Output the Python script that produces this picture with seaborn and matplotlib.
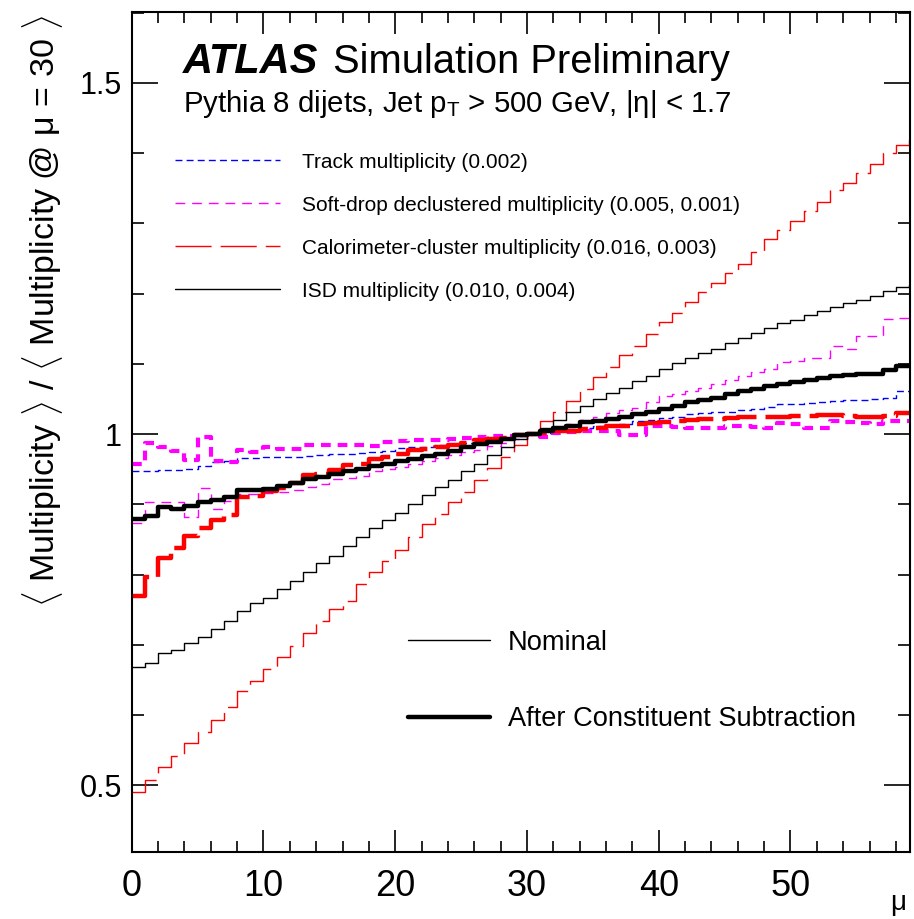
import numpy as np
import pandas as pd
import matplotlib
matplotlib.use("Agg")
import matplotlib.pyplot as plt
from matplotlib import font_manager
from matplotlib.ticker import MultipleLocator, FuncFormatter
import seaborn as sns

# ---------------- data (bin lower edges in mu, bin width 1) ----------------
mu = list(range(60))

track = [0.947, 0.948, 0.949, 0.949, 0.950, 0.955, 0.960, 0.962, 0.966, 0.966,
         0.967, 0.967, 0.968, 0.969, 0.970, 0.971, 0.972, 0.973, 0.974, 0.976,
         0.980, 0.981, 0.982, 0.984, 0.986, 0.987, 0.989, 0.992, 0.994, 0.997,
         1.000, 1.002, 1.005, 1.007, 1.009, 1.012, 1.013, 1.015, 1.018, 1.020,
         1.023, 1.025, 1.028, 1.030, 1.031, 1.032, 1.034, 1.036, 1.038, 1.043,
         1.043, 1.044, 1.046, 1.047, 1.048, 1.049, 1.050, 1.052, 1.062, 1.062]

sd_nom = [0.874, 0.903, 0.903, 0.903, 0.882, 0.923, 0.893, 0.905, 0.914, 0.914,
          0.916, 0.918, 0.920, 0.925, 0.929, 0.936, 0.938, 0.941, 0.947, 0.950,
          0.953, 0.958, 0.962, 0.966, 0.970, 0.974, 0.978, 0.983, 0.987, 0.993,
          1.000, 1.004, 1.009, 1.015, 1.020, 1.025, 1.030, 1.034, 1.037, 1.045,
          1.054, 1.057, 1.062, 1.065, 1.071, 1.077, 1.082, 1.088, 1.093, 1.103,
          1.104, 1.108, 1.108, 1.126, 1.121, 1.139, 1.140, 1.164, 1.165, 1.158]

calo_nom = [0.491, 0.507, 0.526, 0.541, 0.560, 0.576, 0.593, 0.611, 0.634, 0.649,
            0.666, 0.682, 0.699, 0.717, 0.734, 0.751, 0.763, 0.786, 0.803, 0.820,
            0.835, 0.853, 0.872, 0.886, 0.903, 0.918, 0.935, 0.952, 0.968, 0.985,
            1.000, 1.018, 1.032, 1.047, 1.064, 1.081, 1.096, 1.112, 1.126, 1.143,
            1.159, 1.173, 1.188, 1.202, 1.215, 1.230, 1.242, 1.259, 1.278, 1.291,
            1.304, 1.318, 1.331, 1.347, 1.358, 1.372, 1.385, 1.400, 1.412, 1.418]

isd_nom = [0.668, 0.674, 0.688, 0.693, 0.702, 0.711, 0.722, 0.734, 0.748, 0.759,
           0.767, 0.779, 0.791, 0.804, 0.816, 0.827, 0.841, 0.853, 0.866, 0.877,
           0.888, 0.901, 0.913, 0.924, 0.935, 0.948, 0.958, 0.970, 0.981, 0.993,
           1.000, 1.009, 1.020, 1.031, 1.040, 1.050, 1.059, 1.066, 1.075, 1.083,
           1.093, 1.101, 1.108, 1.115, 1.121, 1.129, 1.137, 1.144, 1.151, 1.158,
           1.163, 1.169, 1.175, 1.181, 1.186, 1.191, 1.197, 1.203, 1.209, 1.212]

sd_cs = [0.957, 0.988, 0.982, 0.976, 0.963, 0.996, 0.961, 0.960, 0.977, 0.974,
         0.982, 0.979, 0.979, 0.984, 0.984, 0.984, 0.985, 0.985, 0.983, 0.989,
         0.990, 0.991, 0.992, 0.992, 0.993, 0.994, 0.996, 0.997, 0.997, 0.998,
         1.000, 0.996, 1.002, 1.003, 1.004, 1.005, 1.005, 0.999, 0.999, 1.011,
         1.011, 1.010, 1.009, 1.009, 1.009, 1.011, 1.011, 1.010, 1.009, 1.016,
         1.014, 1.009, 1.009, 1.019, 1.017, 1.016, 1.014, 1.019, 1.018, 1.018]

calo_cs = [0.770, 0.796, 0.824, 0.838, 0.855, 0.866, 0.877, 0.885, 0.910, 0.912,
           0.919, 0.923, 0.931, 0.942, 0.943, 0.949, 0.956, 0.958, 0.964, 0.967,
           0.972, 0.977, 0.979, 0.982, 0.985, 0.988, 0.991, 0.993, 0.995, 0.998,
           1.000, 1.001, 1.004, 1.005, 1.007, 1.009, 1.011, 1.012, 1.014, 1.016,
           1.017, 1.018, 1.020, 1.021, 1.022, 1.023, 1.024, 1.024, 1.025, 1.025,
           1.026, 1.026, 1.027, 1.027, 1.026, 1.025, 1.025, 1.026, 1.030, 1.030]

isd_cs = [0.879, 0.884, 0.896, 0.894, 0.898, 0.903, 0.906, 0.910, 0.920, 0.921,
          0.922, 0.926, 0.931, 0.936, 0.939, 0.943, 0.947, 0.950, 0.955, 0.957,
          0.961, 0.964, 0.969, 0.972, 0.976, 0.981, 0.986, 0.989, 0.993, 0.998,
          1.000, 1.005, 1.008, 1.012, 1.017, 1.019, 1.022, 1.025, 1.029, 1.031,
          1.036, 1.040, 1.045, 1.048, 1.052, 1.057, 1.061, 1.064, 1.068, 1.071,
          1.074, 1.077, 1.080, 1.082, 1.084, 1.085, 1.086, 1.091, 1.097, 1.097]

labels = ["Track multiplicity (0.002)",
          "Soft-drop declustered multiplicity (0.005, 0.001)",
          "Calorimeter-cluster multiplicity (0.016, 0.003)",
          "ISD multiplicity (0.010, 0.004)"]
legend2_labels = ["Nominal", "After Constituent Subtraction"]

# ---------------- style ----------------
sns.set_theme(style="ticks")
names = {f.name for f in font_manager.fontManager.ttflist}
base = "Liberation Sans" if "Liberation Sans" in names else "DejaVu Sans"
narrow = "Liberation Sans Narrow" if "Liberation Sans Narrow" in names else base
plt.rcParams["font.family"] = [base, "DejaVu Sans"]
plt.rcParams["lines.scale_dashes"] = False
plt.rcParams["mathtext.fontset"] = "custom"
plt.rcParams["mathtext.rm"] = base
plt.rcParams["mathtext.it"] = base + ":italic"
plt.rcParams["mathtext.bf"] = base + ":bold"
for key in ["text.color", "axes.labelcolor", "xtick.color", "ytick.color",
            "axes.edgecolor"]:
    plt.rcParams[key] = "black"

fig = plt.figure(figsize=(9.14, 9.19), dpi=100)
ax = fig.add_axes([0.1441, 0.0729, 0.8519, 0.9141])


def frame(vals):
    x = mu + [mu[-1] + 1]
    y = list(vals) + [vals[-1]]
    return pd.DataFrame({"mu": x, "r": y})


blue, mag, red, blk = "#0000ff", "#ff00ff", "#ff0000", "#000000"
dot = (0, (5, 3))
dash = (0, (7, 5))
longdash = (0, (26, 6.5))

series = [
    (track, blue, 1.0, dot),
    (sd_nom, mag, 1.0, dash),
    (calo_nom, red, 1.0, longdash),
    (isd_nom, blk, 1.0, "-"),
    (sd_cs, mag, 3.0, dash),
    (calo_cs, red, 3.2, longdash),
    (isd_cs, blk, 3.2, "-"),
]
for vals, col, lw, ls in series:
    sns.lineplot(data=frame(vals), x="mu", y="r", ax=ax, color=col, lw=lw,
                 linestyle=ls, drawstyle="steps-post", estimator=None,
                 legend=False)

ax.set_xlim(0, 59.1)
ax.set_ylim(0.405, 1.601)

ax.xaxis.set_major_locator(MultipleLocator(10))
ax.xaxis.set_minor_locator(MultipleLocator(2))
ax.yaxis.set_major_locator(MultipleLocator(0.5))
ax.yaxis.set_minor_locator(MultipleLocator(0.1))
ax.yaxis.set_major_formatter(FuncFormatter(lambda v, p: "%g" % v))

ax.tick_params(which="both", direction="in", top=True, right=True,
               color="black", labelcolor="black", width=1.2)
ax.tick_params(axis="x", which="major", length=15.8, labelsize=26, pad=12)
ax.tick_params(axis="x", which="minor", length=7.9)
ax.tick_params(axis="y", which="major", length=18.7, labelsize=22, pad=7)
ax.tick_params(axis="y", which="minor", length=8.6)
for lab in ax.get_xticklabels():
    lab.set_family([narrow, "DejaVu Sans"])
for s in ax.spines.values():
    s.set_linewidth(1.5)
    s.set_color("black")

ax.set_xlabel("μ", fontsize=20, loc="right", color="black")
ax.xaxis.set_label_coords(0.995, -0.045)
ax.set_ylabel(r"$\langle$ Multiplicity $\rangle$ / $\langle$ Multiplicity @ μ = 30 $\rangle$",
              fontsize=24.5, loc="top", color="black")
ax.yaxis.set_label_coords(-0.086, 0.996)

# texts
ax.text(0.0659, 0.9274, "ATLAS", transform=ax.transAxes, fontsize=30,
        fontweight="bold", fontstyle="italic", va="baseline", color="black")
ax.text(0.2585, 0.9274, "Simulation Preliminary", transform=ax.transAxes,
        fontsize=28.7, va="baseline", color="black")
ax.text(0.0659, 0.881, r"Pythia 8 dijets, Jet p$_{\mathregular{T}}$ > 500 GeV, |η| < 1.7",
        transform=ax.transAxes, fontsize=21.2, va="baseline", color="black")

lines = ax.get_lines()
leg1 = ax.legend(lines[:4], labels, loc="upper left",
                 bbox_to_anchor=(0.0556, 0.8324), frameon=False, fontsize=15,
                 handlelength=5.04, handletextpad=1.05, labelspacing=1.15,
                 borderpad=0, borderaxespad=0, labelcolor="black")
ax.add_artist(leg1)
ax.legend([lines[3], lines[6]], legend2_labels, loc="upper left",
          bbox_to_anchor=(0.355, 0.2643), frameon=False, fontsize=19.6,
          handlelength=3.0, handletextpad=0.66, labelspacing=1.84,
          borderpad=0, borderaxespad=0, labelcolor="black")

fig.savefig("out.png", dpi=100)
